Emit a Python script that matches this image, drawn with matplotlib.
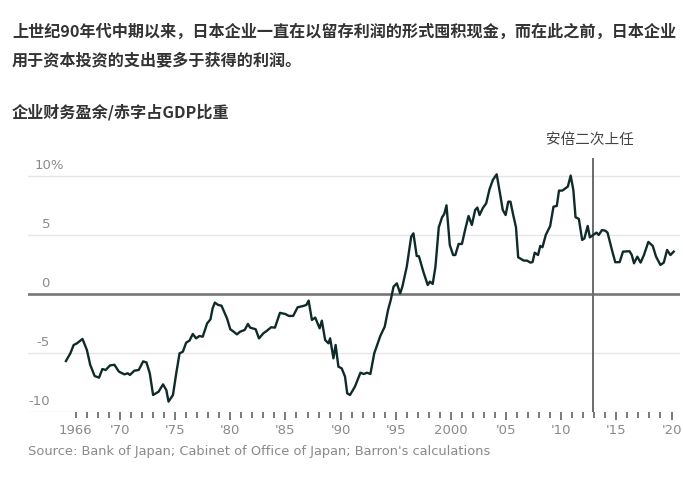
import matplotlib
matplotlib.use("Agg")
import matplotlib.pyplot as plt

# corporate financial surplus/deficit as % of GDP
years = [1965.1, 1965.5, 1965.8, 1966.1, 1966.6, 1967.0, 1967.3, 1967.7, 1968.1, 1968.4,
         1968.7, 1969.1, 1969.5, 1969.9, 1970.4, 1970.7, 1970.9, 1971.3, 1971.7, 1972.1,
         1972.4, 1972.7, 1973.0, 1973.5, 1973.9, 1974.2, 1974.4, 1974.8, 1975.1, 1975.4,
         1975.7, 1976.0, 1976.3, 1976.6, 1976.9, 1977.2, 1977.5, 1977.9, 1978.2, 1978.4,
         1978.6, 1978.9, 1979.2, 1979.7, 1980.0, 1980.3, 1980.6, 1980.9, 1981.3, 1981.6,
         1981.8, 1982.3, 1982.6, 1983.0, 1983.3, 1983.7, 1984.05, 1984.5, 1985.0, 1985.3,
         1985.7, 1986.1, 1986.6, 1986.9, 1987.1, 1987.4, 1987.7, 1988.1, 1988.3, 1988.6,
         1988.9, 1989.05, 1989.35, 1989.55, 1989.8, 1990.1, 1990.4, 1990.6, 1990.85, 1991.3,
         1991.8, 1992.1, 1992.4, 1992.7, 1993.05, 1993.6, 1994.0, 1994.3, 1994.55, 1994.8,
         1995.1, 1995.4, 1995.6, 1996.0, 1996.4, 1996.6, 1996.9, 1997.1, 1997.5, 1997.9,
         1998.1, 1998.35, 1998.6, 1998.9, 1999.2, 1999.4, 1999.6, 1999.9, 2000.2, 2000.4,
         2000.7, 2001.0, 2001.3, 2001.6, 2001.9, 2002.2, 2002.4, 2002.6, 2002.9, 2003.2,
         2003.5, 2003.8, 2004.15, 2004.45, 2004.7, 2004.96, 2005.2, 2005.4, 2005.65, 2005.9,
         2006.1, 2006.6, 2006.9, 2007.2, 2007.4, 2007.6, 2007.9, 2008.1, 2008.3, 2008.6,
         2009.0, 2009.3, 2009.6, 2009.8, 2010.1, 2010.6, 2010.86, 2011.1, 2011.3, 2011.6,
         2011.9, 2012.1, 2012.4, 2012.6, 2012.9, 2013.2, 2013.4, 2013.7, 2014.0, 2014.2,
         2014.6, 2014.9, 2015.3, 2015.6, 2016.2, 2016.4, 2016.6, 2016.9, 2017.2, 2017.5,
         2017.9, 2018.3, 2018.6, 2019.0, 2019.3, 2019.6, 2019.9, 2020.2]
balance = [-5.68, -5.03, -4.32, -4.18, -3.81, -4.75, -6.0, -6.95, -7.09, -6.36,
           -6.44, -6.05, -6.0, -6.58, -6.81, -6.72, -6.86, -6.5, -6.44, -5.71,
           -5.8, -6.72, -8.56, -8.28, -7.66, -8.14, -9.12, -8.56, -6.72, -5.03,
           -4.89, -4.12, -3.95, -3.39, -3.76, -3.56, -3.62, -2.49, -2.15, -1.21,
           -0.73, -0.93, -0.99, -2.06, -2.99, -3.19, -3.42, -3.19, -3.05, -2.54,
           -2.85, -2.99, -3.76, -3.33, -3.13, -2.82, -2.85, -1.6, -1.7, -1.86,
           -1.86, -1.13, -1.02, -0.93, -0.56, -2.2, -2.0, -2.91, -2.26, -3.9,
           -4.18, -3.76, -5.45, -4.32, -6.16, -6.3, -7.0, -8.42, -8.56, -7.85,
           -6.67, -6.78, -6.67, -6.78, -5.03, -3.56, -2.77, -1.36, -0.5, 0.62,
           0.9, 0.05, 0.62, 2.32, 4.86, 5.14, 3.22, 3.2, 1.89, 0.76,
           1.05, 0.85, 2.32, 5.65, 6.5, 6.78, 7.51, 4.15, 3.3, 3.3,
           4.24, 4.24, 5.48, 6.61, 5.85, 7.12, 7.32, 6.69, 7.29, 7.68,
           8.87, 9.66, 10.14, 8.53, 7.12, 6.69, 7.82, 7.82, 6.69, 5.65,
           3.11, 2.83, 2.83, 2.66, 2.7, 3.5, 3.3, 4.07, 3.96, 5.0,
           5.76, 7.4, 7.46, 8.76, 8.76, 9.1, 10.03, 8.81, 6.5, 6.36,
           4.58, 4.7, 5.76, 4.8, 5.0, 5.2, 5.0, 5.42, 5.36, 5.2,
           3.73, 2.69, 2.7, 3.59, 3.62, 3.3, 2.6, 3.16, 2.66, 3.3,
           4.41, 4.07, 3.16, 2.46, 2.66, 3.73, 3.3, 3.59]

ytick_vals = [10, 5, 0, -5, -10]
xtick_years = [1966, 1970, 1975, 1980, 1985, 1990, 1995, 2000, 2005, 2010, 2015, 2020]
xtick_labels = ["1966", "'70", "'75", "'80", "'85", "'90", "'95", "2000", "'05", "'10", "'15", "'20"]
abe_year = 2012.9

title_1 = "上世纪90年代中期以来，日本企业一直在以留存利润的形式囤积现金，而在此之前，日本企业"
title_2 = "用于资本投资的支出要多于获得的利润。"
subtitle = "企业财务盈余/赤字占GDP比重"
abe_label = "安倍二次上任"
source = "Source: Bank of Japan; Cabinet of Office of Japan; Barron's calculations"

W, H = 683, 478
cjk = ["Noto Sans CJK SC", "DejaVu Sans"]
grey_txt = "#8a8a8a"


def fx(x):
    return x / W


def fy(y):
    return 1 - y / H


fig = plt.figure(figsize=(W / 100, H / 100), dpi=100)
# axes box: x 28..680 px, y 150..412 px
ax = fig.add_axes([fx(28), fy(412), fx(680) - fx(28), fy(150) - fy(412)])
ax.set_xlim(1961.66, 2020.77)
ax.set_ylim(-10, 12.2)

for v in ytick_vals:
    if v == 0:
        ax.axhline(v, color="#777777", lw=1.9, zorder=2)
    else:
        ax.axhline(v, color="#e6e6e6", lw=1.0, zorder=1)
    if v == 10:
        ax.text(0.0107, v + 0.85, "10%", transform=ax.get_yaxis_transform(),
                ha="left", va="center", fontsize=9.5, color=grey_txt)
    else:
        ax.text(0.0337, v + 0.85, str(v), transform=ax.get_yaxis_transform(),
                ha="right", va="center", fontsize=9.5, color=grey_txt)

ax.axvline(abe_year, ymin=0, ymax=0.966, color="#6a6a6a", lw=1.4, zorder=2)
ax.plot(years, balance, color="#0f2b29", lw=1.7, zorder=3, solid_joinstyle="round")

for s in ax.spines.values():
    s.set_visible(False)
ax.set_yticks([])
ax.set_xticks(xtick_years)
ax.set_xticklabels(xtick_labels, fontsize=9.5, color=grey_txt)
ax.set_xticks(range(1966, 2021), minor=True)
ax.tick_params(axis="x", which="major", length=6, width=1.1, color="#555555", pad=3)
ax.tick_params(axis="x", which="minor", length=4, width=1.1, color="#555555")
ax.xaxis.get_major_ticks()[0].tick1line.set_markersize(4)

fig.text(fx(12), fy(32), title_1, family=cjk, fontsize=11.6, weight="bold",
         color="#333333", ha="left", va="center")
fig.text(fx(12), fy(60), title_2, family=cjk, fontsize=11.6, weight="bold",
         color="#333333", ha="left", va="center")
fig.text(fx(12), fy(112), subtitle, family=cjk, fontsize=11.6, weight="bold",
         color="#333333", ha="left", va="center")
fig.text(fx(590), fy(140), abe_label, family=cjk, fontsize=10.5,
         color="#444444", ha="center", va="center")
fig.text(fx(28), fy(452), source, fontsize=9.4, color=grey_txt,
         ha="left", va="center")

fig.savefig("out.png", dpi=100)
